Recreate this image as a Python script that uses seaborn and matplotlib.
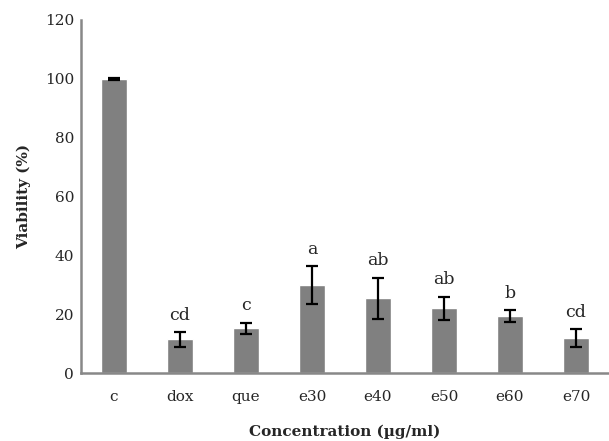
import numpy as np
import pandas as pd
import matplotlib
matplotlib.use("Agg")
import matplotlib.pyplot as plt
import seaborn as sns

# Data
groups = ["c", "dox", "que", "e30", "e40", "e50", "e60", "e70"]
viability = [100.0, 11.5, 15.2, 29.8, 25.4, 22.0, 19.3, 11.8]
errors = [0.3, 2.5, 1.9, 6.5, 7.0, 4.0, 2.1, 3.1]
letters = ["", "cd", "c", "a", "ab", "ab", "b", "cd"]
y_ticks = [0, 20, 40, 60, 80, 100, 120]

df = pd.DataFrame({"group": groups, "viability": viability})

sns.set_style("white")
plt.rcParams["font.family"] = ["DejaVu Serif"]

fig = plt.figure(figsize=(6.09, 4.41), dpi=100)
ax = fig.add_axes([0.133, 0.154, 0.867, 0.801])

sns.barplot(data=df, x="group", y="viability", color="#808080",
            saturation=1, width=0.4, errorbar=None, ax=ax)

xpos = np.arange(len(groups))
ax.errorbar(xpos, viability, yerr=errors, fmt="none", ecolor="black",
            elinewidth=1.6, capsize=4, capthick=1.6)

# significance letters above the error bars
for x, v, e, t in zip(xpos, viability, errors, letters):
    if t:
        ax.annotate(t, (x, v + e), xytext=(0, 6), textcoords="offset points",
                    ha="center", va="bottom", fontsize=12.5)

ax.set_ylim(0, 120)
ax.set_xlim(-0.5, len(groups) - 0.5)
ax.set_yticks(y_ticks)
ax.set_yticklabels([str(t) for t in y_ticks], fontsize=11)
ax.set_xticks(xpos)
ax.set_xticklabels(groups, fontsize=11)
ax.set_xticks(np.arange(len(groups) + 1) - 0.5, minor=True)
ax.tick_params(axis="x", which="major", length=0, pad=12)
ax.tick_params(axis="x", which="minor", length=5, width=1.5, color="#888888", direction="out")
ax.tick_params(axis="y", length=4, width=1, color="#888888", direction="out", pad=1)

sns.despine(ax=ax)
for s in ["left", "bottom"]:
    ax.spines[s].set_color("#888888")
    ax.spines[s].set_linewidth(1.8)

ax.set_xlabel("Concentration (µg/ml)", fontsize=11, fontweight="bold", labelpad=15)
ax.set_ylabel("Viability (%)", fontsize=11, fontweight="bold", labelpad=10)

fig.savefig("out.png", dpi=100)
